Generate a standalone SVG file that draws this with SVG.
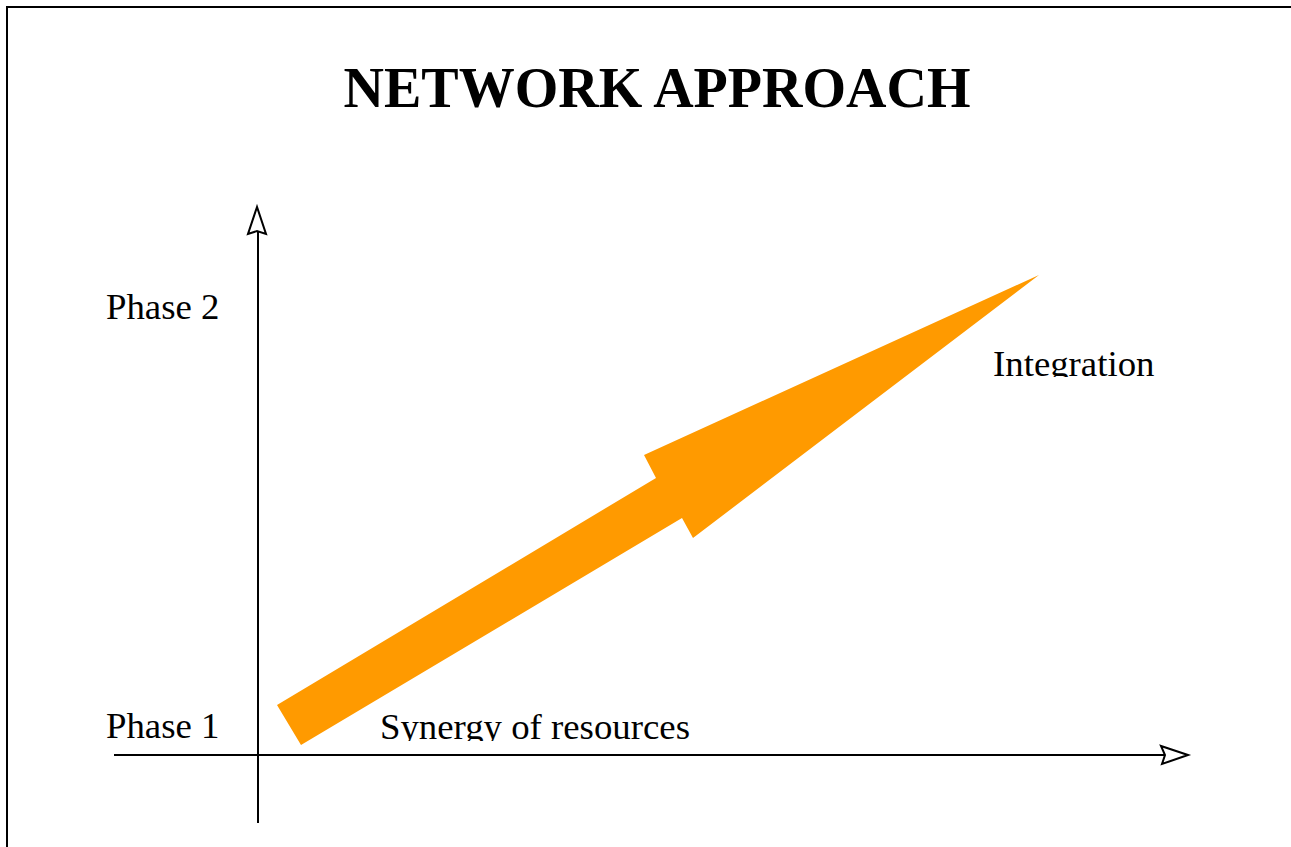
<svg xmlns="http://www.w3.org/2000/svg" width="1291" height="847" viewBox="0 0 1291 847">
<style>
.t{font-family:"Liberation Serif","Times New Roman",serif;font-size:36.8px;fill:#000}
.ttl{font-family:"Liberation Serif","Times New Roman",serif;font-size:56px;font-weight:bold;fill:#000}
.ax{stroke:#000;stroke-width:2;fill:none}
.head{stroke:#000;stroke-width:2;fill:#fff;stroke-linejoin:miter}
</style>
<defs>
<clipPath id="clipInt"><rect x="900" y="330" width="300" height="47"/></clipPath>
<clipPath id="clipSyn"><rect x="360" y="690" width="360" height="51"/></clipPath>
</defs>
<rect width="1291" height="847" fill="#fff"/>
<path d="M7,847 V7 H1291" fill="none" stroke="#000" stroke-width="2"/>
<g id="title"><text class="ttl" x="657" y="107" text-anchor="middle">NETWORK APPROACH</text></g>
<g id="connectors">
<line class="ax" x1="258" y1="823" x2="258" y2="232"/>
<path class="head" d="M257,207 L248,234 L257,231 L266,234 Z"/>
<line class="ax" x1="114" y1="755" x2="1166" y2="755"/>
<path class="head" d="M1188,755 L1161,746 L1165,755 L1162,764 Z"/>
</g>
<g id="arrow"><polygon points="277,705 656,478 644,455 1039,275 693,538 682,518 301,745" fill="#ff9a00"/></g>
<g id="phase2"><text class="t" x="106" y="319">Phase 2</text></g>
<g id="phase1"><text class="t" x="106" y="738">Phase 1</text></g>
<g id="integration"><text class="t" x="993" y="376" clip-path="url(#clipInt)">Integration</text></g>
<g id="synergy"><text class="t" x="380" y="739" clip-path="url(#clipSyn)">Synergy of resources</text></g>
</svg>
